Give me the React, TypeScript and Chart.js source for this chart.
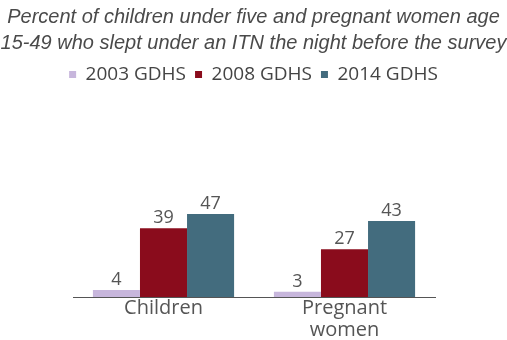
import React, { useEffect, useRef } from "react";
import { Chart, registerables } from "chart.js";

Chart.register(...registerables);

const categories: (string | string[])[] = ["Children", ["Pregnant", "women"]];
const seriesNames = ["2003 GDHS", "2008 GDHS", "2014 GDHS"];
const values2003 = [4, 3];
const values2008 = [39, 27];
const values2014 = [47, 43];
const colors = ["#c7b6dc", "#8a0c1c", "#436c7e"];
const titleLines = [
  "Percent of children under five and pregnant women age",
  "15-49 who slept under an ITN the night before the survey",
];

const FONT = "'Open Sans', sans-serif";
const TITLE_FONT = "'Liberation Sans', Arial, sans-serif";

const valueLabels = {
  id: "valueLabels",
  afterDatasetsDraw(chart: any) {
    const ctx = chart.ctx;
    ctx.save();
    ctx.font = `18px ${FONT}`;
    ctx.fillStyle = "#555555";
    ctx.textAlign = "center";
    ctx.textBaseline = "bottom";
    chart.data.datasets.forEach((ds: any, i: number) => {
      const meta = chart.getDatasetMeta(i);
      meta.data.forEach((bar: any, j: number) => {
        ctx.fillText(String(ds.data[j]), bar.x, bar.y - 1);
      });
    });
    ctx.restore();
  },
};

export default function App() {
  const ref = useRef<HTMLCanvasElement>(null);
  useEffect(() => {
    document.body.style.margin = "0";
    const chart = new Chart(ref.current!, {
      type: "bar",
      data: {
        labels: categories,
        datasets: [
          { label: seriesNames[0], data: values2003, backgroundColor: colors[0] },
          { label: seriesNames[1], data: values2008, backgroundColor: colors[1] },
          { label: seriesNames[2], data: values2014, backgroundColor: colors[2] },
        ],
      },
      options: {
        animation: false,
        responsive: false,
        layout: { padding: { left: 0, right: 0, top: 4, bottom: 0 } },
        datasets: { bar: { categoryPercentage: 0.78, barPercentage: 1 } },
        plugins: {
          title: {
            display: true,
            text: titleLines,
            color: "#4a4a4a",
            font: { family: TITLE_FONT, size: 20, style: "italic", weight: "normal", lineHeight: "26px" },
            padding: { top: 0, bottom: 0 },
          },
          legend: {
            display: true,
            labels: {
              color: "#444444",
              font: { family: FONT, size: 19 },
              boxWidth: 7,
              boxHeight: 7,
              padding: 9,
            },
          },
          tooltip: { enabled: false },
        },
        scales: {
          x: {
            grid: { display: false, drawTicks: false },
            border: { display: true, color: "#555555", width: 1 },
            ticks: {
              color: "#555555",
              font: { family: FONT, size: 20, lineHeight: "22px" },
              padding: 0,
            },
            afterFit(scale: any) {
              scale.height = 43;
            },
          },
          y: {
            display: true,
            position: "left",
            min: 0,
            max: 115,
            grid: { display: false, drawTicks: false },
            border: { display: false },
            ticks: { display: false },
            afterFit(scale: any) {
              scale.width = 73;
            },
          },
          yRight: {
            display: true,
            position: "right",
            min: 0,
            max: 115,
            grid: { display: false, drawTicks: false },
            border: { display: false },
            ticks: { display: false },
            afterFit(scale: any) {
              scale.width = 72;
            },
          },
        },
      },
      plugins: [valueLabels],
    });
    return () => chart.destroy();
  }, []);
  return (
    <div style={{ width: 507, height: 340 }}>
      <canvas ref={ref} width={507} height={340} style={{ display: "block" }} />
    </div>
  );
}
